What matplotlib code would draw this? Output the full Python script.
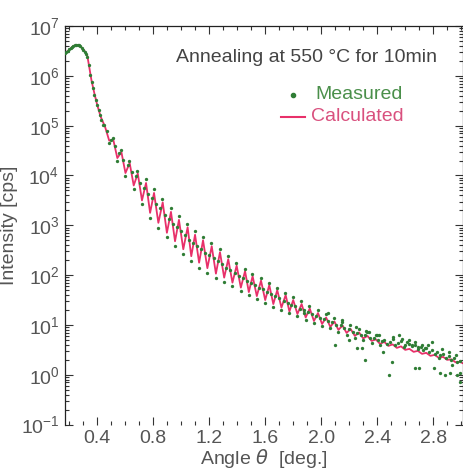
import numpy as np
import matplotlib
matplotlib.use("Agg")
import matplotlib.pyplot as plt
from matplotlib.ticker import LogLocator, LogFormatterMathtext, MultipleLocator, NullFormatter

plt.rcParams['font.family'] = ['Liberation Sans', 'DejaVu Sans']
plt.rcParams['mathtext.default'] = 'regular'

# calculated curve: angle [deg] and log10(intensity [cps]), peaks and troughs
calc_angle = [0.170, 0.200, 0.230, 0.258, 0.285, 0.310, 0.330, 0.345, 0.360, 0.380, 0.400, 0.425,
              0.456, 0.486, 0.515, 0.544, 0.573, 0.602, 0.632, 0.661, 0.690, 0.720,
              0.749, 0.778, 0.806, 0.837, 0.868, 0.898, 0.927, 0.956, 0.984, 1.015,
              1.046, 1.072, 1.099, 1.128, 1.156, 1.187, 1.218, 1.248, 1.277, 1.307,
              1.336, 1.366, 1.396, 1.426, 1.456, 1.483, 1.510, 1.540, 1.570, 1.600,
              1.629, 1.658, 1.686, 1.716, 1.746, 1.773, 1.800, 1.830, 1.860, 1.889,
              1.918, 1.948, 1.977, 2.006, 2.035, 2.065, 2.094, 2.123, 2.152, 2.181,
              2.210, 2.240, 2.270, 2.300, 2.330, 2.360, 2.390, 2.420, 2.450, 2.480,
              2.510, 2.540, 2.570, 2.600, 2.630, 2.660, 2.690, 2.720, 2.750, 2.780,
              2.810, 2.840, 2.870, 2.900, 2.930, 2.960, 2.990, 3.020]
calc_log = [6.45, 6.52, 6.60, 6.62, 6.58, 6.50, 6.40, 6.15, 5.90, 5.65, 5.42, 5.18,
            4.98, 4.70, 4.72, 4.35, 4.47, 4.05, 4.25, 3.80, 4.04, 3.50,
            3.85, 3.25, 3.65, 3.05, 3.46, 2.85, 3.27, 2.68, 3.11, 2.52,
            2.96, 2.38, 2.81, 2.25, 2.70, 2.14, 2.58, 2.03, 2.46, 1.95,
            2.32, 1.85, 2.19, 1.75, 2.08, 1.66, 1.98, 1.58, 1.89, 1.50,
            1.80, 1.42, 1.70, 1.35, 1.60, 1.27, 1.50, 1.22, 1.42, 1.15,
            1.33, 1.08, 1.24, 1.02, 1.15, 0.96, 1.07, 0.90, 0.99, 0.84,
            0.92, 0.78, 0.85, 0.73, 0.78, 0.68, 0.71, 0.62, 0.66, 0.58,
            0.61, 0.54, 0.57, 0.50, 0.52, 0.46, 0.48, 0.42, 0.44, 0.38,
            0.40, 0.34, 0.36, 0.30, 0.31, 0.25, 0.26, 0.22]

# measured points, low angle region
meas_low_angle = [0.170, 0.180, 0.190, 0.200, 0.210, 0.220, 0.230, 0.240, 0.250, 0.260,
                  0.270, 0.280, 0.290, 0.300, 0.310, 0.320, 0.330, 0.340, 0.350, 0.360,
                  0.370, 0.380, 0.390, 0.400, 0.410, 0.420, 0.430, 0.440]
meas_low_log = [6.45, 6.47, 6.50, 6.53, 6.55, 6.58, 6.60, 6.61, 6.62, 6.62,
                6.61, 6.59, 6.56, 6.52, 6.48, 6.44, 6.38, 6.22, 6.02, 5.88,
                5.75, 5.62, 5.52, 5.42, 5.32, 5.22, 5.12, 5.02]

# measured points in the fringe region
meas_fr_angle = [0.452, 0.468, 0.484, 0.500, 0.512, 0.528, 0.543, 0.558, 0.571, 0.587, 0.602, 0.617,
                 0.630, 0.646, 0.661, 0.676, 0.688, 0.704, 0.720, 0.735, 0.747, 0.762, 0.778, 0.793,
                 0.804, 0.820, 0.837, 0.852, 0.866, 0.882, 0.898, 0.913, 0.925, 0.940, 0.956, 0.971,
                 0.982, 0.998, 1.015, 1.030, 1.044, 1.058, 1.072, 1.086, 1.097, 1.112, 1.128, 1.143,
                 1.154, 1.170, 1.187, 1.202, 1.216, 1.232, 1.248, 1.262, 1.275, 1.291, 1.307, 1.321,
                 1.334, 1.350, 1.366, 1.381, 1.394, 1.410, 1.426, 1.441, 1.454, 1.469, 1.483, 1.497,
                 1.508, 1.524, 1.540, 1.555, 1.568, 1.584, 1.600, 1.615, 1.627, 1.643, 1.658, 1.672,
                 1.684, 1.700, 1.716, 1.731, 1.744, 1.760, 1.773, 1.787, 1.798, 1.815, 1.830, 1.845,
                 1.858, 1.874, 1.889, 1.904, 1.916, 1.932, 1.948, 1.963, 1.975, 1.990, 2.006, 2.020,
                 2.033, 2.050, 2.065, 2.080, 2.092, 2.108, 2.123, 2.138, 2.150, 2.166, 2.181, 2.196,
                 2.208, 2.225, 2.240, 2.255, 2.268, 2.285, 2.300, 2.315, 2.328, 2.345, 2.360, 2.375,
                 2.388, 2.405, 2.420, 2.435]
meas_fr_log = [5.02, 4.90, 4.66, 4.72, 4.76, 4.60, 4.30, 4.45, 4.52, 4.32, 3.98, 4.22,
               4.30, 4.08, 3.72, 3.98, 4.10, 3.85, 3.42, 3.75, 3.92, 3.62, 3.15, 3.55,
               3.72, 3.42, 2.95, 3.35, 3.53, 3.20, 2.76, 3.12, 3.34, 3.02, 2.58, 2.96,
               3.18, 2.88, 2.42, 2.80, 3.03, 2.70, 2.28, 2.64, 2.88, 2.58, 2.15, 2.52,
               2.77, 2.45, 2.05, 2.40, 2.65, 2.34, 1.95, 2.28, 2.52, 2.22, 1.87, 2.15,
               2.38, 2.10, 1.78, 2.04, 2.25, 1.98, 1.68, 1.94, 2.13, 1.88, 1.60, 1.84,
               2.03, 1.80, 1.52, 1.75, 1.94, 1.72, 1.45, 1.66, 1.85, 1.63, 1.37, 1.58,
               1.75, 1.54, 1.30, 1.49, 1.65, 1.45, 1.23, 1.40, 1.56, 1.38, 1.17, 1.33,
               1.48, 1.30, 1.10, 1.26, 1.38, 1.22, 1.04, 1.18, 1.30, 1.14, 0.98, 1.12,
               1.22, 1.08, 0.93, 1.06, 1.14, 1.00, 0.86, 0.99, 1.06, 0.93, 0.80, 0.92,
               0.99, 0.86, 0.74, 0.84, 0.92, 0.80, 0.70, 0.79, 0.86, 0.74, 0.64, 0.73,
               0.80, 0.70, 0.59, 0.68]

# measured points at high angles (noisy)
meas_hi_angle = [2.45, 2.47, 2.49, 2.51, 2.53, 2.55, 2.57, 2.59, 2.61, 2.63, 2.65, 2.67, 2.69, 2.71,
                 2.73, 2.75, 2.77, 2.79, 2.81, 2.83, 2.85, 2.87, 2.89, 2.91, 2.93, 2.95, 2.97, 2.99,
                 2.101, 2.256, 2.291, 2.315, 2.339, 2.410, 2.482, 2.506, 2.553, 2.600, 2.625, 2.672,
                 2.696, 2.720, 2.791, 2.803, 2.839, 2.887, 2.910, 2.934, 2.970, 2.994, 2.396, 2.440,
                 2.515, 2.646, 2.694, 2.741, 2.670, 2.849, 2.920, 2.990, 2.200, 2.150, 2.250, 2.320,
                 2.050, 1.880, 2.580, 2.760, 2.860, 2.960]
meas_hi_log = [0.70, 0.62, 0.66, 0.72, 0.60, 0.64, 0.68, 0.55, 0.66, 0.62, 0.58, 0.60, 0.52, 0.56,
               0.50, 0.54, 0.46, 0.50, 0.42, 0.46, 0.40, 0.42, 0.34, 0.38, 0.30, 0.33, 0.25, 0.27,
               0.59, 0.53, 0.53, 0.29, 0.86, 0.80, -0.01, 0.26, 0.80, 0.59, 0.69, 0.66,
               0.13, 0.59, 0.66, 0.13, 0.33, -0.01, 0.46, 0.19, -0.01, -0.14, 0.80, 0.46,
               0.76, 0.59, 0.56, 0.53, 0.13, 0.03, 0.03, 0.03, 0.70, 1.10, 0.95, 0.88,
               1.25, 1.25, 0.72, 0.60, 0.52, 0.40]

green = '#2f7d35'
pink = '#e8306a'
gray = '#555555'
fs = 14

fig = plt.figure(figsize=(4.64, 4.70), dpi=100)
ax = fig.add_axes([0.140, 0.0966, 0.858, 0.848])

ax.plot(calc_angle, 10 ** np.array(calc_log), color=pink, lw=1.3, zorder=2)
meas_angle = meas_low_angle + meas_fr_angle + meas_hi_angle
meas_log = meas_low_log + meas_fr_log + meas_hi_log
ax.plot(meas_angle, 10 ** np.array(meas_log), ls='none', marker='o', ms=2.4,
        mec='none', mfc=green, zorder=3)

ax.set_yscale('log')
ax.set_xlim(0.17, 3.013)
ax.set_ylim(1e-1, 1e7)

ax.xaxis.set_minor_locator(MultipleLocator(0.1))
ax.set_xticks([0.4, 0.8, 1.2, 1.6, 2.0, 2.4, 2.8])
ax.set_xticklabels(['0.4', '0.8', '1.2', '1.6', '2.0', '2.4', '2.8'])
ax.yaxis.set_major_locator(LogLocator(base=10, numticks=20))
ax.yaxis.set_major_formatter(LogFormatterMathtext())
ax.yaxis.set_minor_locator(LogLocator(base=10, subs=np.arange(2, 10), numticks=20))
ax.yaxis.set_minor_formatter(NullFormatter())

ax.tick_params(which='both', direction='in', top=True, right=True,
               labelsize=fs, labelcolor=gray, color='#333333', width=0.8)
ax.tick_params(which='major', length=6)
ax.tick_params(which='minor', length=3)
ax.tick_params(axis='x', pad=4)
ax.tick_params(axis='y', pad=4)

for s in ['left', 'right', 'top']:
    ax.spines[s].set_color('#222222')
    ax.spines[s].set_linewidth(0.9)
ax.spines['bottom'].set_visible(False)

ax.set_ylabel('Intensity [cps]', fontsize=fs, color=gray)
ax.yaxis.set_label_coords(-0.118, 0.5)
ax.set_xlabel('Angle $\\mathit{\\theta}$  [deg.]', fontsize=fs, color=gray, labelpad=0)

ax.text(0.935, 0.922, 'Annealing at 550 °C for 10min', transform=ax.transAxes,
        ha='right', va='center', fontsize=fs, color='#444444')

# legend built by hand
ax.plot([0.572], [0.827], transform=ax.transAxes, marker='o', ms=3, color=green, ls='none')
ax.text(0.628, 0.827, 'Measured', transform=ax.transAxes, ha='left', va='center',
        fontsize=fs, color='#4a8f4a')
ax.plot([0.542, 0.603], [0.772, 0.772], transform=ax.transAxes, color=pink, lw=1.5)
ax.text(0.618, 0.772, 'Calculated', transform=ax.transAxes, ha='left', va='center',
        fontsize=fs, color='#d9507e')

fig.savefig('out.png', dpi=100)
